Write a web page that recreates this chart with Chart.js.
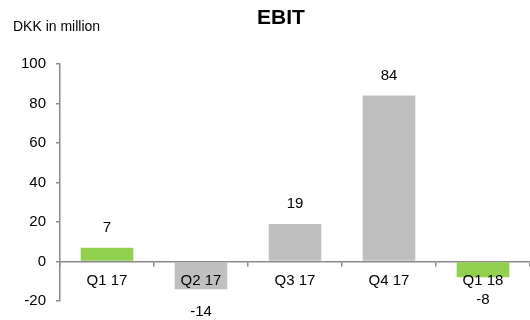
<!DOCTYPE html>
<html>
<head>
<meta charset="utf-8">
<script src="https://cdn.jsdelivr.net/npm/chart.js@4.4.1/dist/chart.umd.min.js"></script>
<style>
  html, body { margin: 0; padding: 0; background: #fff; }
  #wrap { width: 530px; height: 320px; position: relative; }
</style>
</head>
<body>
<div id="wrap"><canvas id="chartCanvas"></canvas></div>
<script>
// Chart data
const quarters = ["Q1 17", "Q2 17", "Q3 17", "Q4 17", "Q1 18"];
const ebit = [7, -14, 19, 84, -8];
const barColors = ["#92d050", "#bfbfbf", "#bfbfbf", "#bfbfbf", "#92d050"];
const yTicks = [-20, 0, 20, 40, 60, 80, 100];

const FONT = "'Liberation Sans', Arial, sans-serif";
const AXIS = "#8a8a8a";

// Title, unit text and value labels
const textPlugin = {
  id: "texts",
  afterDatasetsDraw(chart) {
    const ctx = chart.ctx;
    ctx.save();
    ctx.fillStyle = "#000";
    ctx.textBaseline = "middle";

    ctx.font = "bold 21px " + FONT;
    ctx.textAlign = "center";
    ctx.fillText("EBIT", 281, 18);

    ctx.font = "14px " + FONT;
    ctx.textAlign = "left";
    ctx.fillText("DKK in million", 13, 27);

    ctx.font = "15px " + FONT;
    ctx.textAlign = "center";
    const meta = chart.getDatasetMeta(0);
    meta.data.forEach((bar, i) => {
      const v = ebit[i];
      const y = v >= 0 ? bar.y - 20 : bar.y + 22.5;
      ctx.fillText(String(v), bar.x, y);
    });
    ctx.restore();
  }
};

const ctx = document.getElementById("chartCanvas").getContext("2d");
new Chart(ctx, {
  type: "bar",
  data: {
    labels: quarters,
    datasets: [
      {
        data: ebit,
        backgroundColor: barColors,
        borderWidth: 0,
        categoryPercentage: 1,
        barPercentage: 0.56,
      },
    ],
  },
  options: {
    responsive: true,
    maintainAspectRatio: false,
    animation: false,
    layout: {
      padding: { left: 0, right: 0, top: 64, bottom: 18 },
    },
    plugins: {
      legend: { display: false },
      tooltip: { enabled: false },
    },
    scales: {
      x: {
        position: { y: 0 },
        grid: {
          display: true,
          drawOnChartArea: false,
          drawTicks: true,
          tickLength: 4,
          color: AXIS,
          lineWidth: 1.5,
        },
        border: { color: AXIS, width: 1.5 },
        ticks: {
          z: 1, // draw category labels over the negative bars
          color: "#000",
          font: { family: FONT, size: 15 },
          padding: 6,
          maxRotation: 0,
          autoSkip: false,
        },
      },
      y: {
        min: -20,
        max: 100,
        afterBuildTicks(scale) {
          scale.ticks = yTicks.map(v => ({ value: v }));
        },
        afterFit(scale) {
          scale.width = 60;
        },
        grid: {
          display: true,
          drawOnChartArea: false,
          drawTicks: true,
          tickLength: 4,
          color: AXIS,
          lineWidth: 1.5,
        },
        border: { color: AXIS, width: 1.5 },
        ticks: {
          color: "#000",
          font: { family: FONT, size: 15 },
          padding: 10,
        },
      },
    },
  },
  plugins: [textPlugin],
});
</script>
</body>
</html>
